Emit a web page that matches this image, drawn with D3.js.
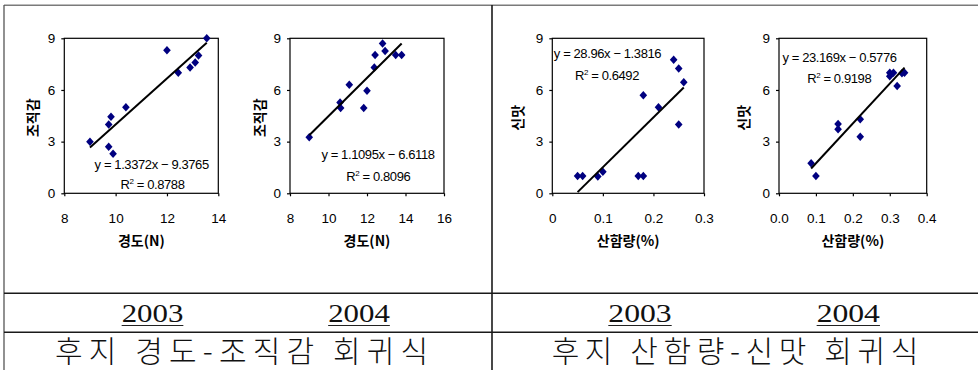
<!DOCTYPE html>
<html>
<head>
<meta charset="utf-8">
<script src="https://cdn.jsdelivr.net/npm/d3@7"></script>
<style>
  html, body { margin: 0; padding: 0; background: #fff; }
  svg { display: block; }
  .tick text { font-family: "Liberation Sans", Arial, sans-serif; font-size: 13.5px; fill: #000; }
  .tick line { stroke: #000; stroke-width: 1.2; }
  .axis-title { font-family: "Noto Sans CJK KR", sans-serif; font-size: 14px; font-weight: 700; fill: #000; }
  .eq { font-family: "Liberation Sans", Arial, sans-serif; font-size: 13px; fill: #000; letter-spacing: -0.4px; }
  .year { font-family: "Liberation Serif", "Times New Roman", serif; font-size: 26px; fill: #111; }
  .caption { font-family: "Noto Sans CJK KR", sans-serif; font-size: 30px; font-weight: 300; fill: #111; }
</style>
</head>
<body>
<svg id="chart" width="978" height="370"></svg>
<script>
// Fuji apples: hardness vs texture score, and acid content vs sourness score

// 2003 hardness (N) and texture score
const hardness2003 = [9.0, 9.73, 9.9, 9.73, 9.82, 10.4, 12.0, 12.44, 12.9, 13.1, 13.23, 13.55];
const texture2003  = [3.0, 2.7, 2.3, 4.0, 4.45, 5.0, 8.3, 7.0, 7.3, 7.6, 8.0, 9.0];
// 2004 hardness (N) and texture score
const hardness2004 = [9.0, 10.6, 10.63, 11.08, 11.83, 12.0, 12.38, 12.42, 12.81, 12.94, 13.49, 13.8];
const texture2004  = [3.25, 5.27, 4.95, 6.3, 4.95, 5.96, 7.3, 8.03, 8.7, 8.26, 8.03, 8.03];
// 2003 acid content (%) and sourness score
const acidity2003  = [0.05, 0.06, 0.09, 0.10, 0.17, 0.18, 0.18, 0.21, 0.24, 0.25, 0.25, 0.26];
const sourness2003 = [1.0, 1.0, 0.97, 1.25, 1.0, 1.0, 5.7, 5.0, 7.75, 7.25, 4.0, 6.45];
// 2004 acid content (%) and sourness score
const acidity2004  = [0.087, 0.10, 0.16, 0.16, 0.22, 0.22, 0.30, 0.30, 0.31, 0.32, 0.333, 0.34];
const sourness2004 = [1.74, 1.0, 4.03, 3.72, 4.3, 3.29, 7.0, 6.8, 7.0, 6.23, 6.97, 7.0];

// Linear fits per panel
const slopes     = [1.3372, 1.1095, 28.96, 23.169];
const intercepts = [-9.3765, -6.6118, -1.3816, -0.5776];
const rSquared   = [0.8788, 0.8096, 0.6492, 0.9198];

// Axes
const yTickValues = [0, 3, 6, 9];
const xTicksHard2003 = [8, 10, 12, 14];
const xTicksHard2004 = [8, 10, 12, 14, 16];
const xTicksAcid2003 = [0, 0.1, 0.2, 0.3];
const xTicksAcid2004 = [0, 0.1, 0.2, 0.3, 0.4];
const xLabelsAcid2003 = ["0", "0.1", "0.2", "0.3"];
const xLabelsAcid2004 = ["0.0", "0.1", "0.2", "0.3", "0.4"];
const xTitles = ["경도(N)", "산함량(%)"];
const yTitles = ["조직감", "신맛"];
const years = ["2003", "2004"];
const captions = ["후지 경도-조직감 회귀식", "후지 산함량-신맛 회귀식"];

const panels = [
  { xs: hardness2003, ys: texture2003,  xTicks: xTicksHard2003, xLabels: xTicksHard2003.map(String), group: 0 },
  { xs: hardness2004, ys: texture2004,  xTicks: xTicksHard2004, xLabels: xTicksHard2004.map(String), group: 0 },
  { xs: acidity2003,  ys: sourness2003, xTicks: xTicksAcid2003, xLabels: xLabelsAcid2003, group: 1 },
  { xs: acidity2004,  ys: sourness2004, xTicks: xTicksAcid2004, xLabels: xLabelsAcid2004, group: 1 }
];

// Plot boxes and label anchors (pixels)
const layout = [
  { left: 64.3,  right: 218.3, eq: [151.7, 168.5], r2: [152.5, 189.3], yTitleX: 33 },
  { left: 290,   right: 444,   eq: [378,   159.3], r2: [378.3, 180.7], yTitleX: 260 },
  { left: 552.3, right: 704,   eq: [607.5, 58.3],  r2: [607,   80],    yTitleX: 517.5 },
  { left: 779,   right: 926.7, eq: [839.5, 61.7],  r2: [839.2, 82.7],  yTitleX: 744 }
];
const plotTop = 38.3, plotBottom = 193.3;

const svg = d3.select("#chart");

// Table frame
const frame = svg.append("g");
frame.append("line").attr("x1", 4).attr("x2", 978).attr("y1", 5.3).attr("y2", 5.3)
  .attr("stroke", "#7a7a7a").attr("stroke-width", 1.6);
frame.append("line").attr("x1", 4).attr("x2", 4).attr("y1", 5).attr("y2", 370)
  .attr("stroke", "#555").attr("stroke-width", 1.3);
frame.append("line").attr("x1", 492).attr("x2", 492).attr("y1", 5).attr("y2", 370)
  .attr("stroke", "#1a1a1a").attr("stroke-width", 1.6);
[293.2, 332.3].forEach(yy => {
  frame.append("line").attr("x1", 4).attr("x2", 978).attr("y1", yy).attr("y2", yy)
    .attr("stroke", "#1a1a1a").attr("stroke-width", 1.5);
});

// Diamond marker shape, slightly taller than wide
const diamond = {
  draw(ctx, size) {
    const h = Math.sqrt(size) / 2, w = h * 0.9;
    ctx.moveTo(0, -h); ctx.lineTo(w, 0); ctx.lineTo(0, h); ctx.lineTo(-w, 0); ctx.closePath();
  }
};
const markerPath = d3.symbol().type(diamond).size(72)();

panels.forEach((p, i) => {
  const L = layout[i];
  const x = d3.scaleLinear().domain([p.xTicks[0], p.xTicks[p.xTicks.length - 1]]).range([L.left, L.right]);
  const y = d3.scaleLinear().domain([yTickValues[0], yTickValues[yTickValues.length - 1]]).range([plotBottom, plotTop]);
  const g = svg.append("g");

  // axes
  const ya = g.append("g").attr("transform", `translate(${L.left},0)`)
    .call(d3.axisLeft(y).tickValues(yTickValues).tickSize(3).tickPadding(6).tickFormat(d3.format("d")));
  ya.select(".domain").remove();
  const xa = g.append("g").attr("transform", `translate(0,${plotBottom})`)
    .call(d3.axisBottom(x).tickValues(p.xTicks).tickSize(3).tickPadding(17).tickFormat((d, k) => p.xLabels[k]));
  xa.select(".domain").remove();

  // plot frame
  g.append("rect").attr("x", L.left).attr("y", plotTop)
    .attr("width", L.right - L.left).attr("height", plotBottom - plotTop)
    .attr("fill", "none").attr("stroke", "#000").attr("stroke-width", 1.2);

  // axis titles
  g.append("text").attr("class", "axis-title")
    .attr("x", (L.left + L.right) / 2).attr("y", 246)
    .attr("text-anchor", "middle").text(xTitles[p.group]);
  g.append("text").attr("class", "axis-title")
    .attr("transform", `translate(${L.yTitleX + 5},${(plotTop + plotBottom) / 2 + 2}) rotate(-90)`)
    .attr("text-anchor", "middle").text(yTitles[p.group]);

  // points
  g.append("g").selectAll("path").data(d3.zip(p.xs, p.ys)).join("path")
    .attr("d", markerPath)
    .attr("transform", d => `translate(${x(d[0])},${y(d[1])})`)
    .attr("fill", "#000080");

  // fitted line over the observed range
  const x0 = d3.min(p.xs), x1 = d3.max(p.xs);
  const fit = v => slopes[i] * v + intercepts[i];
  g.append("path")
    .datum([[x0, fit(x0)], [x1, fit(x1)]])
    .attr("d", d3.line().x(d => x(d[0])).y(d => y(d[1])))
    .attr("stroke", "#000").attr("stroke-width", 2).attr("fill", "none");

  // equation and R²
  g.append("text").attr("class", "eq").attr("text-anchor", "middle")
    .attr("x", L.eq[0]).attr("y", L.eq[1])
    .text(`y = ${slopes[i]}x − ${Math.abs(intercepts[i])}`);
  const r2 = g.append("text").attr("class", "eq").attr("text-anchor", "middle")
    .attr("x", L.r2[0]).attr("y", L.r2[1]);
  r2.append("tspan").text("R");
  r2.append("tspan").attr("dy", -5).attr("font-size", "8px").text("2");
  r2.append("tspan").attr("dy", 5).text(` = ${rSquared[i]}`);
});

// Year labels under each panel (underlined)
const yearPos = [[152.5, 61.7], [359, 61.7], [640, 63.4], [848.3, 63.3]];
yearPos.forEach((pos, k) => {
  svg.append("text").attr("class", "year")
    .attr("x", pos[0]).attr("y", 321.7).attr("text-anchor", "middle")
    .attr("textLength", pos[1]).attr("lengthAdjust", "spacingAndGlyphs")
    .text(years[k % 2]);
  svg.append("line")
    .attr("x1", pos[0] - pos[1] / 2).attr("x2", pos[0] + pos[1] / 2)
    .attr("y1", 325.5).attr("y2", 325.5)
    .attr("stroke", "#222").attr("stroke-width", 1.2);
});

// Captions
const captionPos = [[241.5, 373], [735, 366.7]];
captions.forEach((c, k) => {
  svg.append("text").attr("class", "caption")
    .attr("x", captionPos[k][0]).attr("y", 362).attr("text-anchor", "middle")
    .attr("textLength", captionPos[k][1]).attr("lengthAdjust", "spacing")
    .text(c);
});
</script>
</body>
</html>
